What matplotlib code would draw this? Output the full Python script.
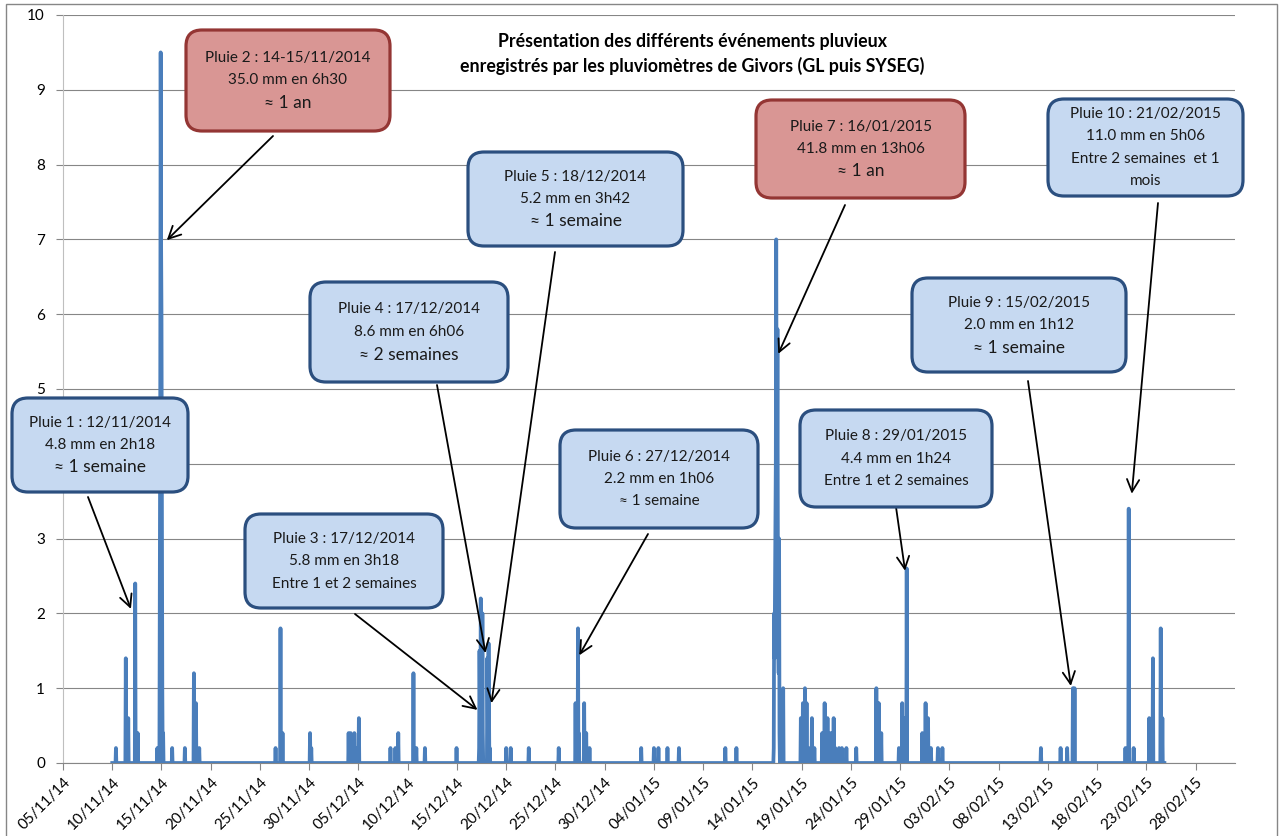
import matplotlib
matplotlib.use('Agg')
import matplotlib.pyplot as plt
import matplotlib.dates as mdates
from matplotlib.patches import FancyBboxPatch, Rectangle
from matplotlib.transforms import IdentityTransform
import pandas as pd

plt.rcParams['font.family'] = ['Lato', 'DejaVu Sans']

W, H = 1282, 836
LINE = '#4A7EBB'
GRID = '#868686'
BLUE_FILL, BLUE_EDGE = '#C6D9F1', '#2B4F7F'
RED_FILL, RED_EDGE = '#D99694', '#943634'

# hourly rain readings (mm), only the non-zero hours
rain_times = [
    "2014-11-10 09:00", "2014-11-11 09:00", "2014-11-11 15:00", "2014-11-12 08:00",
    "2014-11-12 14:00", "2014-11-14 14:00", "2014-11-14 19:00", "2014-11-14 20:00",
    "2014-11-14 21:00", "2014-11-14 22:00", "2014-11-14 23:00", "2014-11-15 00:00",
    "2014-11-15 01:00", "2014-11-15 02:00", "2014-11-15 04:00", "2014-11-16 02:00",
    "2014-11-17 09:00", "2014-11-18 07:00", "2014-11-18 12:00", "2014-11-18 20:00",
    "2014-11-26 14:00", "2014-11-27 02:00", "2014-11-27 07:00", "2014-11-30 02:00",
    "2014-11-30 05:00", "2014-12-04 00:00", "2014-12-04 05:00", "2014-12-04 14:00",
    "2014-12-04 18:00", "2014-12-05 01:00", "2014-12-08 06:00", "2014-12-08 18:00",
    "2014-12-09 01:00", "2014-12-10 14:00", "2014-12-10 21:00", "2014-12-11 18:00",
    "2014-12-14 23:00", "2014-12-17 06:00", "2014-12-17 07:00", "2014-12-17 08:00",
    "2014-12-17 10:00", "2014-12-17 11:00", "2014-12-17 14:00", "2014-12-17 15:00",
    "2014-12-18 02:00", "2014-12-18 03:00", "2014-12-18 05:00", "2014-12-18 06:00",
    "2014-12-18 08:00", "2014-12-20 00:00", "2014-12-20 11:00", "2014-12-22 07:00",
    "2014-12-25 08:00", "2014-12-27 01:00", "2014-12-27 07:00", "2014-12-27 09:00",
    "2014-12-27 22:00", "2014-12-28 03:00", "2014-12-28 11:00", "2015-01-02 17:00",
    "2015-01-04 00:00", "2015-01-04 11:00", "2015-01-05 09:00", "2015-01-06 13:00",
    "2015-01-11 06:00", "2015-01-12 09:00", "2015-01-16 04:00", "2015-01-16 05:00",
    "2015-01-16 06:00", "2015-01-16 07:00", "2015-01-16 08:00", "2015-01-16 09:00",
    "2015-01-16 10:00", "2015-01-16 11:00", "2015-01-16 12:00", "2015-01-16 13:00",
    "2015-01-16 14:00", "2015-01-16 15:00", "2015-01-16 16:00", "2015-01-16 17:00",
    "2015-01-16 18:00", "2015-01-17 03:00", "2015-01-18 22:00", "2015-01-19 03:00",
    "2015-01-19 08:00", "2015-01-19 12:00", "2015-01-19 17:00", "2015-01-20 01:00",
    "2015-01-20 07:00", "2015-01-21 02:00", "2015-01-21 08:00", "2015-01-21 15:00",
    "2015-01-21 23:00", "2015-01-22 06:00", "2015-01-22 10:00", "2015-01-22 19:00",
    "2015-01-23 02:00", "2015-01-23 13:00", "2015-01-24 13:00", "2015-01-26 14:00",
    "2015-01-26 20:00", "2015-01-27 02:00", "2015-01-28 21:00", "2015-01-29 05:00",
    "2015-01-29 10:00", "2015-01-29 16:00", "2015-01-31 06:00", "2015-01-31 14:00",
    "2015-01-31 20:00", "2015-02-01 03:00", "2015-02-01 20:00", "2015-02-02 07:00",
    "2015-02-12 07:00", "2015-02-14 07:00", "2015-02-14 23:00", "2015-02-15 13:00",
    "2015-02-15 17:00", "2015-02-20 21:00", "2015-02-21 05:00", "2015-02-21 17:00",
    "2015-02-23 07:00", "2015-02-23 16:00", "2015-02-24 11:00", "2015-02-24 15:00",
]
rain_mm = [
    0.2, 1.4, 0.6, 2.4,
    0.4, 0.2, 0.2, 2.4,
    5.0, 9.5, 7.0, 6.0,
    3.6, 1.0, 0.4, 0.2,
    0.2, 1.2, 0.8, 0.2,
    0.2, 1.8, 0.4, 0.4,
    0.2, 0.4, 0.4, 0.4,
    0.2, 0.6, 0.2, 0.2,
    0.4, 1.2, 0.2, 0.2,
    0.2, 0.2, 1.5, 0.8,
    2.2, 1.0, 2.0, 0.4,
    1.4, 0.8, 1.6, 0.8,
    0.2, 0.2, 0.2, 0.2,
    0.2, 0.8, 1.8, 0.4,
    0.8, 0.4, 0.2, 0.2,
    0.2, 0.2, 0.2, 0.2,
    0.2, 0.2, 0.2, 2.0,
    1.4, 2.2, 3.0, 4.0,
    7.0, 4.6, 3.8, 5.8,
    3.0, 1.6, 1.2, 3.0,
    0.4, 1.0, 0.6, 0.8,
    1.0, 0.8, 0.2, 0.6,
    0.2, 0.4, 0.8, 0.6,
    0.4, 0.6, 0.2, 0.2,
    0.2, 0.2, 0.2, 1.0,
    0.8, 0.4, 0.2, 0.8,
    0.6, 2.6, 0.4, 0.8,
    0.6, 0.2, 0.2, 0.2,
    0.2, 0.2, 0.2, 1.0,
    1.0, 0.2, 3.4, 0.2,
    0.6, 1.4, 1.8, 0.6,
]
record_start, record_end = "2014-11-10 00:00", "2015-02-24 20:00"

tick_dates = pd.date_range("2014-11-05", "2015-02-28", freq="5D")

# (text lines, red?, big last line?, box left/top/right/bottom px, arrow start px, arrow target (date, mm))
events = [
    (["Pluie 1 : 12/11/2014", "4.8 mm en 2h18", "≈ 1 semaine"], False, True,
     (12, 398, 188, 492), (88, 497), ("2014-11-11 21:30", 2.06)),
    (["Pluie 2 : 14-15/11/2014", "35.0 mm en 6h30", "≈ 1 an"], True, True,
     (186, 30, 390, 131), (273, 136), ("2014-11-15 13:00", 6.99)),
    (["Pluie 3 : 17/12/2014", "5.8 mm en 3h18", "Entre 1 et 2 semaines"], False, False,
     (245, 514, 443, 608), (355, 614), ("2014-12-17 02:00", 0.71)),
    (["Pluie 4 : 17/12/2014", "8.6 mm en 6h06", "≈ 2 semaines"], False, True,
     (310, 282, 508, 382), (437, 385), ("2014-12-17 21:30", 1.47)),
    (["Pluie 5 : 18/12/2014", "5.2 mm en 3h42", "≈ 1 semaine"], False, True,
     (468, 152, 683, 246), (555, 252), ("2014-12-18 12:00", 0.80)),
    (["Pluie 6 : 27/12/2014", "2.2 mm en 1h06", "≈ 1 semaine"], False, False,
     (560, 430, 758, 528), (648, 534), ("2014-12-27 10:00", 1.44)),
    (["Pluie 7 : 16/01/2015", "41.8 mm en 13h06", "≈ 1 an"], True, True,
     (756, 100, 965, 198), (845, 205), ("2015-01-16 15:00", 5.47)),
    (["Pluie 8 : 29/01/2015", "4.4 mm en 1h24", "Entre 1 et 2 semaines"], False, False,
     (800, 410, 992, 507), (896, 507), ("2015-01-29 12:00", 2.57)),
    (["Pluie 9 : 15/02/2015", "2.0 mm en 1h12", "≈ 1 semaine"], False, True,
     (912, 278, 1126, 372), (1028, 381), ("2015-02-15 08:00", 1.03)),
    (["Pluie 10 : 21/02/2015", "11.0 mm en 5h06", "Entre 2 semaines  et 1", "mois"], False, False,
     (1048, 99, 1243, 196), (1158, 203), ("2015-02-21 12:30", 3.60)),
]

# hourly record: zero where no rain was measured
series = pd.Series(0.0, index=pd.date_range(record_start, record_end, freq="h"))
series[pd.to_datetime(rain_times)] = rain_mm

fig = plt.figure(figsize=(W / 100, H / 100), dpi=100)
ax = fig.add_axes([63 / W, 73 / H, 1172 / W, 748 / H])

ax.plot(series.index, series.values, color=LINE, lw=2.7, zorder=3)

ax.set_xlim(pd.Timestamp("2014-11-05"), pd.Timestamp("2015-03-04"))
ax.set_ylim(0, 10)
ax.set_yticks(range(0, 11))
ax.set_xticks(tick_dates)
ax.xaxis.set_major_formatter(mdates.DateFormatter("%d/%m/%y"))
ax.grid(axis='y', color=GRID, lw=0.8)
ax.set_axisbelow(True)
for s in ('top', 'right'):
    ax.spines[s].set_visible(False)
ax.spines['left'].set_color('#BFBFBF')
ax.spines['bottom'].set_color(GRID)
ax.tick_params(axis='both', colors=GRID, labelcolor='black', labelsize=11, length=5)
ax.tick_params(axis='y', pad=8)
for lbl in ax.get_xticklabels():
    lbl.set_rotation(45)
    lbl.set_ha('right')
    lbl.set_rotation_mode('anchor')

# chart frame
fig.add_artist(Rectangle((6, -10), 1271, H - 4 + 10, transform=IdentityTransform(),
                         fill=False, ec=GRID, lw=1))

fig.text(692 / W, 1 - 42 / H, "Présentation des différents événements pluvieux",
         ha='center', va='center', fontsize=12.8, fontweight='bold')
fig.text(692 / W, 1 - 66 / H, "enregistrés par les pluviomètres de Givors (GL puis SYSEG)",
         ha='center', va='center', fontsize=12.8, fontweight='bold')

for lines, red, big, (x0, y0, x1, y1), (ax0, ay0), (tdate, tval) in events:
    fc, ec = (RED_FILL, RED_EDGE) if red else (BLUE_FILL, BLUE_EDGE)
    box = FancyBboxPatch((x0, H - y1), x1 - x0, y1 - y0,
                         boxstyle="round,pad=0,rounding_size=16",
                         transform=IdentityTransform(), fc=fc, ec=ec, lw=2.3, zorder=5)
    fig.add_artist(box)
    cx = (x0 + x1) / 2
    cy = (y0 + y1) / 2
    n = len(lines)
    step = 22.5
    for i, txt in enumerate(lines):
        ty = cy + (i - (n - 1) / 2) * step
        size = 12.5 if (big and i == n - 1) else 11
        fig.text(cx / W, 1 - ty / H, txt, ha='center', va='center',
                 fontsize=size, color='#1a1a1a', zorder=6)
    ax.annotate('', xy=(pd.Timestamp(tdate), tval), xycoords='data',
                xytext=(ax0, H - ay0), textcoords='figure pixels',
                arrowprops=dict(arrowstyle='->', color='black', lw=1.3,
                                mutation_scale=22, shrinkA=0, shrinkB=0),
                zorder=7, annotation_clip=False)

fig.savefig("out.png", dpi=100)
